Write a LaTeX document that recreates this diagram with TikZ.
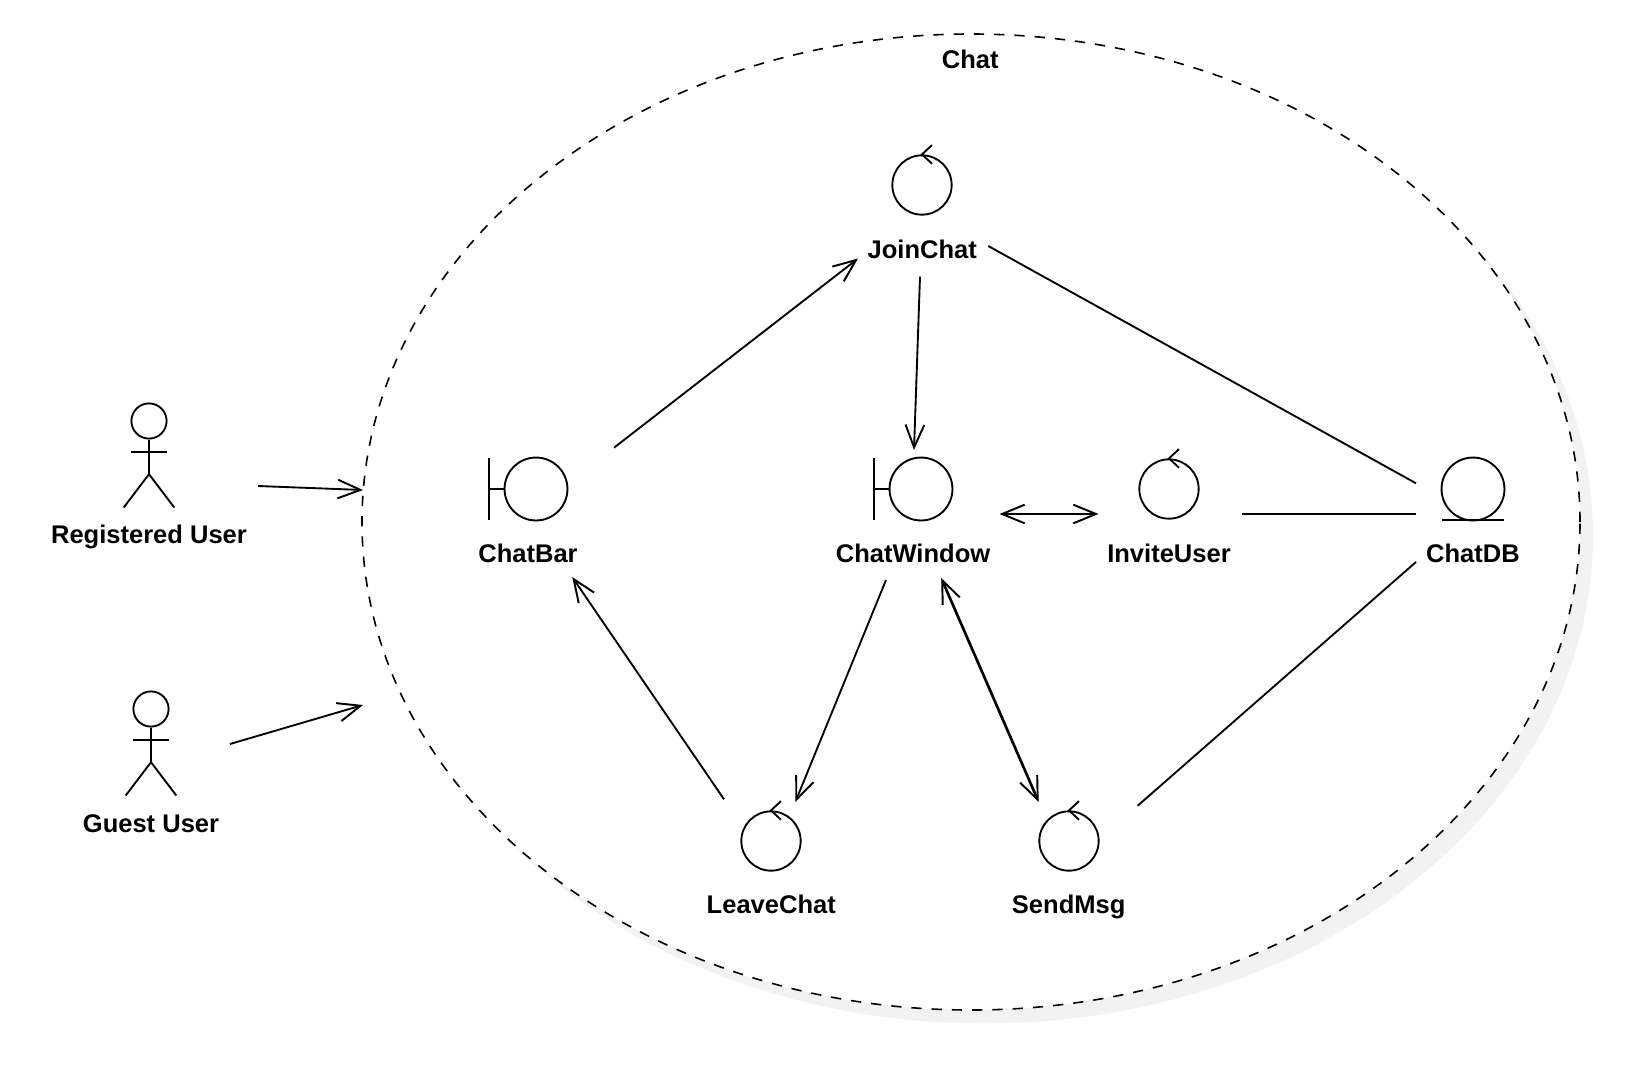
\documentclass[tikz,border=0pt]{standalone}
\usepackage{fontspec}
\setmainfont{Liberation Sans}
\usetikzlibrary{arrows.meta,shapes.geometric}
\definecolor{shadowgray}{HTML}{F2F2F2}
\tikzset{
  px/.style={x=0.75pt,y=-0.75pt},
  stroke/.style={draw=black,line width=1.4pt},
  conn/.style={draw=black,line width=1.4pt,line cap=butt},
  heavyconn/.style={conn,line width=1.75pt},
  doubleconn/.style={conn,line width=2pt},
  openhead/.style={>={Straight Barb[length=17pt,width=14pt,line width=1.45pt]}},
  lab/.style={font=\fontsize{19.15}{22}\selectfont\bfseries,anchor=base,inner sep=0pt,text=black},
  bigring/.style={circle,stroke,inner sep=0pt,minimum size=47.2pt},
  ctrlring/.style={circle,stroke,inner sep=0pt,minimum size=44.5pt},
  headring/.style={circle,stroke,inner sep=0pt,minimum size=26.4pt},
  boundary/.style={ellipse,inner sep=0pt,minimum width=913.5pt,minimum height=732pt},
}
\newcommand{\controlicon}[3]{% name, x, y
  \node[ctrlring] (#1) at (#2,#3) {};
  \draw[stroke] ([xshift=7.5pt,yshift=7pt]#1.north) -- (#1.north) -- ([xshift=7.5pt,yshift=-7pt]#1.north);
}
\newcommand{\boundaryicon}[3]{% name, x, y
  \node[bigring] (#1) at (#2,#3) {};
  \draw[stroke] ([xshift=-35.25pt]#1.center) ++(0,23.25pt) -- ++(0,-46.5pt);
  \draw[stroke] ([xshift=-35.25pt]#1.center) -- (#1.west);
}
\newcommand{\actoricon}[3]{% name, x, y of head
  \node[headring] (#1) at (#2,#3) {};
  \draw[stroke] (#1.south) -- ++(0,-26pt) coordinate (#1hip);
  \draw[stroke] ([yshift=-9.5pt]#1.south) ++(-13.5pt,0) -- ++(27pt,0);
  \draw[stroke] ([xshift=-19pt,yshift=-25pt]#1hip) -- (#1hip) -- ([xshift=19pt,yshift=-25pt]#1hip);
}
\begin{document}
\begin{tikzpicture}[px]
\useasboundingbox (0,0) rectangle (1636,1076);
% boundary
\node[boundary,fill=shadowgray] (shadowshape) at (984,535.5) {};
\node[boundary,fill=white,draw=black,line width=1.2pt,dash pattern=on 7.7pt off 7.5pt] (chatzone) at (971,522) {};
\node[lab] (chatlab) at (970.3,68.2) {Chat};
% actors
\actoricon{reg}{149}{421}
\node[lab] (reglab) at (149,543.5) {Registered User};
\actoricon{guest}{151}{709}
\node[lab] (guestlab) at (151,832) {Guest User};
% icons
\boundaryicon{chatbar}{536}{489}
\node[lab] (chatbarlab) at (528,562) {ChatBar};
\boundaryicon{chatwin}{921}{489}
\node[lab] (chatwinlab) at (913,562) {ChatWindow};
\controlicon{join}{922}{185}
\node[lab] (joinlab) at (922.3,258) {JoinChat};
\controlicon{invite}{1169}{489}
\node[lab] (invitelab) at (1169,562) {InviteUser};
\controlicon{leave}{771}{841}
\node[lab] (leavelab) at (771.3,913.3) {LeaveChat};
\controlicon{send}{1069}{841}
\node[lab] (sendlab) at (1068.7,913.3) {SendMsg};
\node[bigring] (db) at (1473,489) {};
\draw[stroke] (1442,520) coordinate (dbl) -- (1504,520) coordinate (dbr);
\node[lab] (dblab) at (1473,562) {ChatDB};
% connector ends
\coordinate (regOut) at (258,486);
\coordinate (regIn) at (363,490);
\coordinate (guestOut) at (230,744);
\coordinate (guestIn) at (363,705);
\coordinate (barOut) at (614,447.7);
\coordinate (joinIn) at (858,258.5);
\coordinate (joinOut) at (920,276.7);
\coordinate (winTop) at (914,450);
\coordinate (joinRight) at (988.3,246);
\coordinate (dbA) at (1416,483.3);
\coordinate (winRight) at (999.5,514);
\coordinate (inviteLeft) at (1098.5,514);
\coordinate (inviteRight) at (1242,514);
\coordinate (dbB) at (1416,514);
\coordinate (dbC) at (1416,562);
\coordinate (sendRight) at (1137.7,805.7);
\coordinate (winBottomL) at (886,580);
\coordinate (leaveTop) at (795.3,802);
\coordinate (winBottomR) at (941.2,578);
\coordinate (sendTop) at (1038.7,802);
\coordinate (leaveLeft) at (724,799.3);
\coordinate (barBottom) at (572.2,577);
% connectors
\begin{scope}[openhead]
\draw[conn,->] (regOut) -- (regIn);
\draw[conn,->] (guestOut) -- (guestIn);
\draw[conn,->] (barOut) -- (joinIn);
\draw[conn,->] (joinOut) -- (winTop);
\draw[heavyconn,<->] (winRight) -- (inviteLeft);
\draw[conn,->] (winBottomL) -- (leaveTop);
\draw[doubleconn,<->] (winBottomR) -- (sendTop);
\draw[conn,->] (leaveLeft) -- (barBottom);
\end{scope}
\draw[conn] (joinRight) -- (dbA);
\draw[heavyconn] (inviteRight) -- (dbB);
\draw[conn] (dbC) -- (sendRight);
\end{tikzpicture}
\end{document}
